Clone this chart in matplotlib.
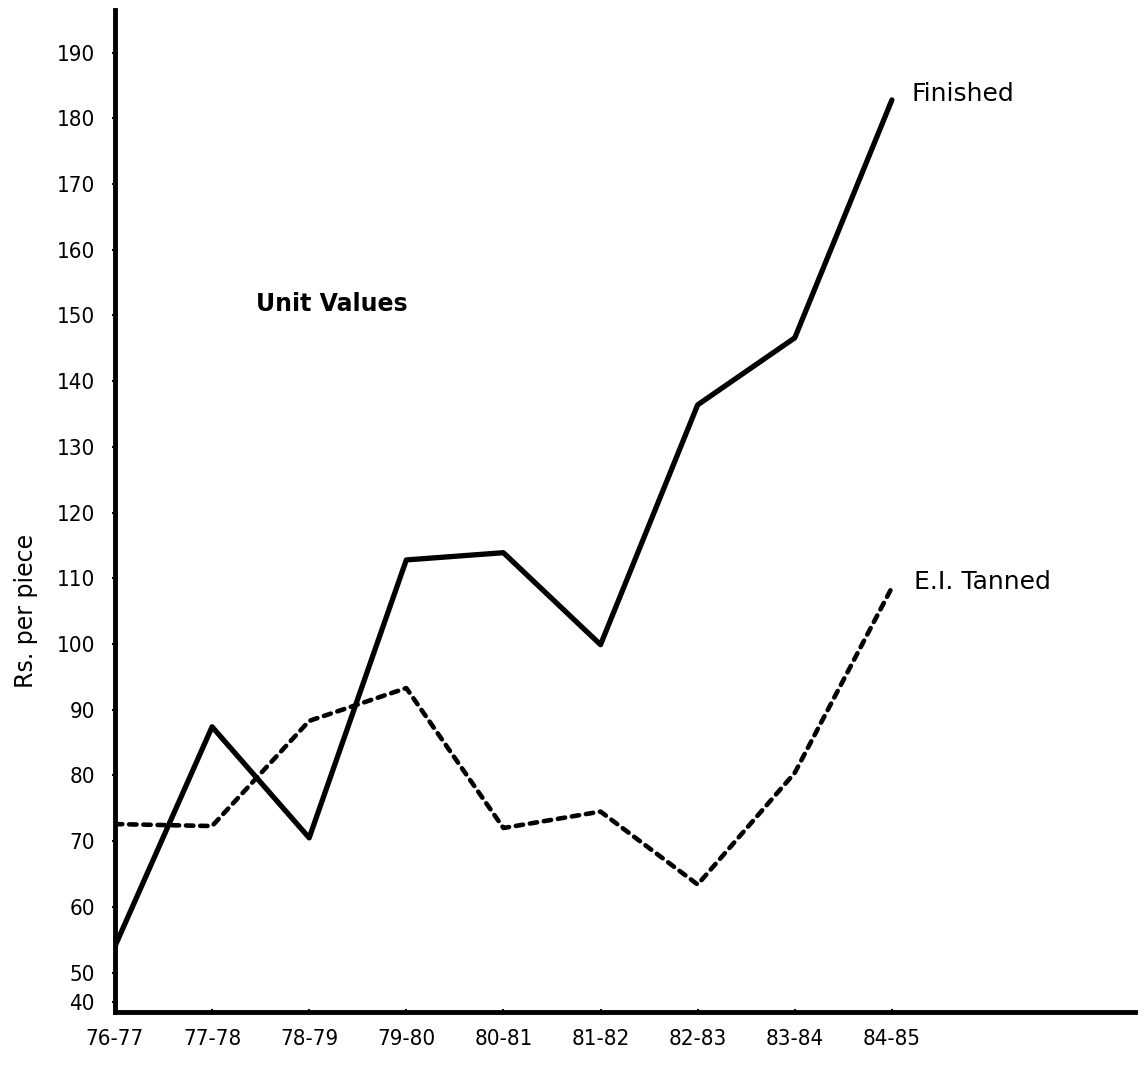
import matplotlib
matplotlib.use("Agg")
import matplotlib.pyplot as plt

years = ["76-77", "77-78", "78-79", "79-80", "80-81", "81-82", "82-83", "83-84", "84-85"]
finished = [54, 87.4, 70.5, 112.8, 113.9, 99.9, 136.4, 146.6, 182.8]
ei_tanned = [72.6, 72.3, 88.3, 93.3, 72.0, 74.5, 63.4, 80.4, 108.6]
ytick_vals = [45.5] + list(range(50, 200, 10))
ytick_text = ["40"] + [str(v) for v in range(50, 200, 10)]

plt.rcParams["font.family"] = ["DejaVu Sans"]

fig = plt.figure(figsize=(11.45, 10.82), dpi=100)
ax = fig.add_axes([0.1004, 0.0647, 0.8906, 0.9261])
x = list(range(len(years)))

ax.plot(x, finished, color="black", lw=3.8, solid_joinstyle="round", solid_capstyle="round")
ax.plot(x, ei_tanned, color="black", lw=3.3, ls=(0, (1.6, 1.5)), dash_capstyle="round",
        dash_joinstyle="round")

ax.set_xlim(0, 10.5)
ax.set_ylim(44.0, 196.5)
for s in ("top", "right"):
    ax.spines[s].set_visible(False)
for s in ("left", "bottom"):
    ax.spines[s].set_linewidth(3.5)

ax.set_xticks(x)
ax.set_xticklabels(years, fontsize=16, fontstretch="condensed")
ax.set_yticks(ytick_vals)
ax.set_yticklabels(ytick_text, fontsize=16, fontstretch="condensed")
ax.tick_params(axis="x", direction="inout", length=5, width=1.5, pad=10)
ax.tick_params(axis="y", direction="inout", length=5, width=1.5, pad=12)

ax.set_ylabel("Rs. per piece", fontsize=17)
ax.yaxis.set_label_coords(-0.075, 0.40)

ax.text(2.23, 151.7, "Unit Values", fontsize=17, fontweight="bold",
        ha="center", va="center")
ax.text(8.2, 183.7, "Finished", fontsize=18, va="center")
ax.text(8.23, 109.5, "E.I. Tanned", fontsize=18, va="center")

fig.savefig("out.png", dpi=100)
